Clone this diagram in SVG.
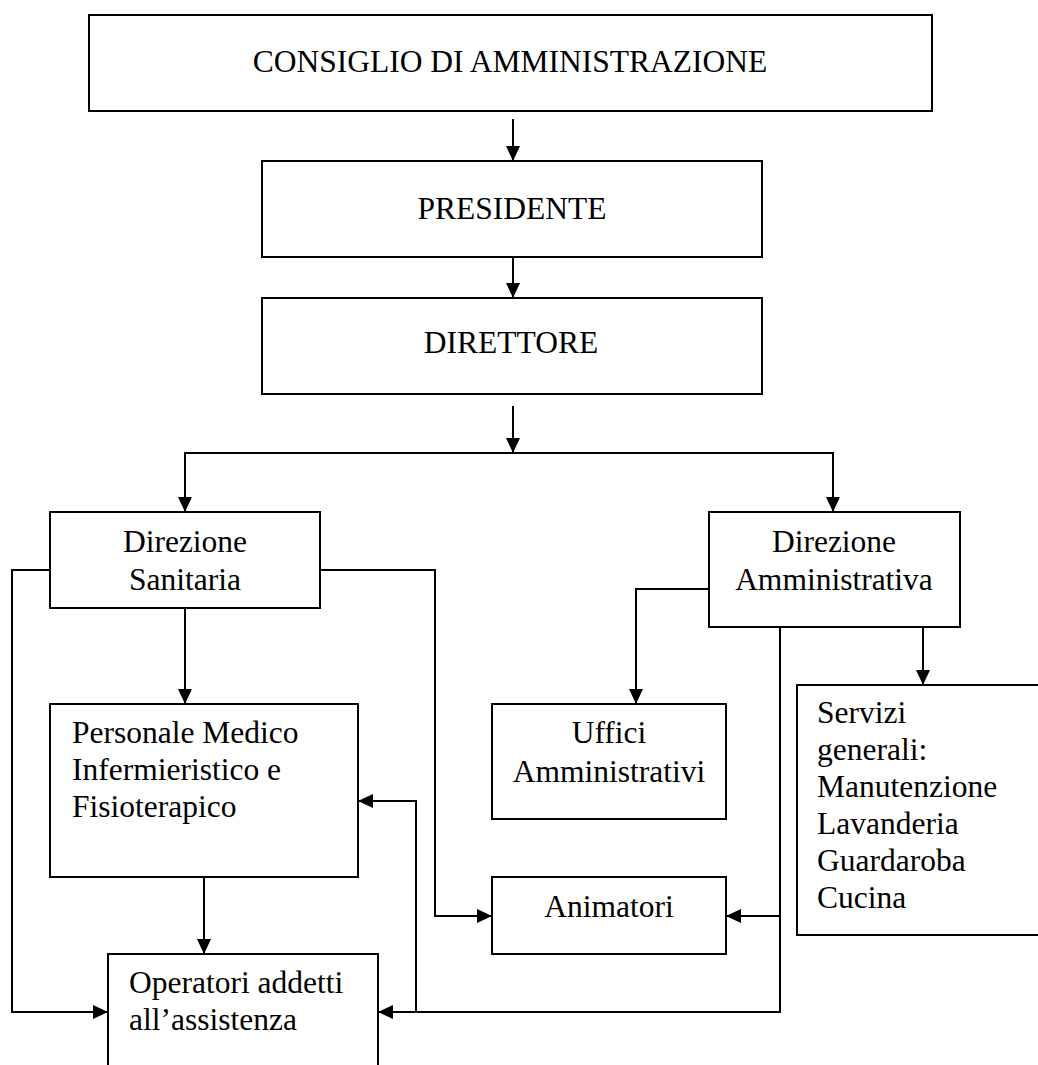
<svg xmlns="http://www.w3.org/2000/svg" width="1038" height="1065" viewBox="0 0 1038 1065">
<defs>
<marker id="ah" markerUnits="userSpaceOnUse" markerWidth="15" markerHeight="14" refX="15" refY="7" orient="auto">
<path d="M0,0 L15,7 L0,14 z" fill="#000"/>
</marker>
<style>
.box{fill:#fff;stroke:#000;stroke-width:2}
.t{font-family:"Liberation Serif","Times New Roman",serif;font-size:31.5px;fill:#000}
.c{text-anchor:middle}
.con path{fill:none;stroke:#000;stroke-width:2;marker-end:url(#ah)}
.con path.nm{marker-end:none}
</style>
</defs>
<rect width="1038" height="1065" fill="#fff"/>
<g id="consiglio"><rect class="box" x="89" y="15" width="843" height="96"/><text class="t c" x="510" y="72">CONSIGLIO DI AMMINISTRAZIONE</text></g>
<g id="presidente"><rect class="box" x="262" y="161" width="500" height="96"/><text class="t c" x="512" y="219">PRESIDENTE</text></g>
<g id="direttore"><rect class="box" x="262" y="298" width="500" height="96"/><text class="t c" x="511" y="353">DIRETTORE</text></g>
<g id="dir-sanitaria"><rect class="box" x="50" y="512" width="270" height="96"/><text class="t c" x="185" y="552">Direzione</text><text class="t c" x="185" y="590">Sanitaria</text></g>
<g id="dir-amministrativa"><rect class="box" x="709" y="512" width="251" height="115"/><text class="t c" x="834" y="552">Direzione</text><text class="t c" x="834" y="590">Amministrativa</text></g>
<g id="personale"><rect class="box" x="50" y="704" width="308" height="173"/><text class="t" x="72" y="743">Personale Medico</text><text class="t" x="72" y="780">Infermieristico e</text><text class="t" x="72" y="817">Fisioterapico</text></g>
<g id="uffici"><rect class="box" x="492" y="704" width="234" height="115"/><text class="t c" x="609" y="743">Uffici</text><text class="t c" x="609" y="782">Amministrativi</text></g>
<g id="servizi"><rect class="box" x="797" y="685" width="260" height="250"/><text class="t" x="817" y="723">Servizi</text><text class="t" x="817" y="760">generali:</text><text class="t" x="817" y="797">Manutenzione</text><text class="t" x="817" y="834">Lavanderia</text><text class="t" x="817" y="871">Guardaroba</text><text class="t" x="817" y="908">Cucina</text></g>
<g id="animatori"><rect class="box" x="492" y="877" width="234" height="77"/><text class="t c" x="609" y="917">Animatori</text></g>
<g id="operatori"><rect class="box" x="108" y="954" width="270" height="130"/><text class="t" x="129" y="993">Operatori addetti</text><text class="t" x="129" y="1030">all’assistenza</text></g>
<g id="connectors" class="con">
<path d="M513,119 V161"/>
<path d="M513,257 V298"/>
<path d="M513,406 V453"/>
<path d="M513,453 H185 V512"/>
<path d="M513,453 H833 V512"/>
<path d="M185,608 V704"/>
<path d="M50,570 H12 V1012 H108"/>
<path d="M320,570 H435 V916 H492"/>
<path d="M204,877 V954"/>
<path d="M709,589 H636 V704"/>
<path d="M923,627 V685"/>
<path d="M780,627 V1012 H378"/>
<path d="M780,916 H726"/>
<path d="M416,1012 V801 H358"/>
</g>
</svg>
